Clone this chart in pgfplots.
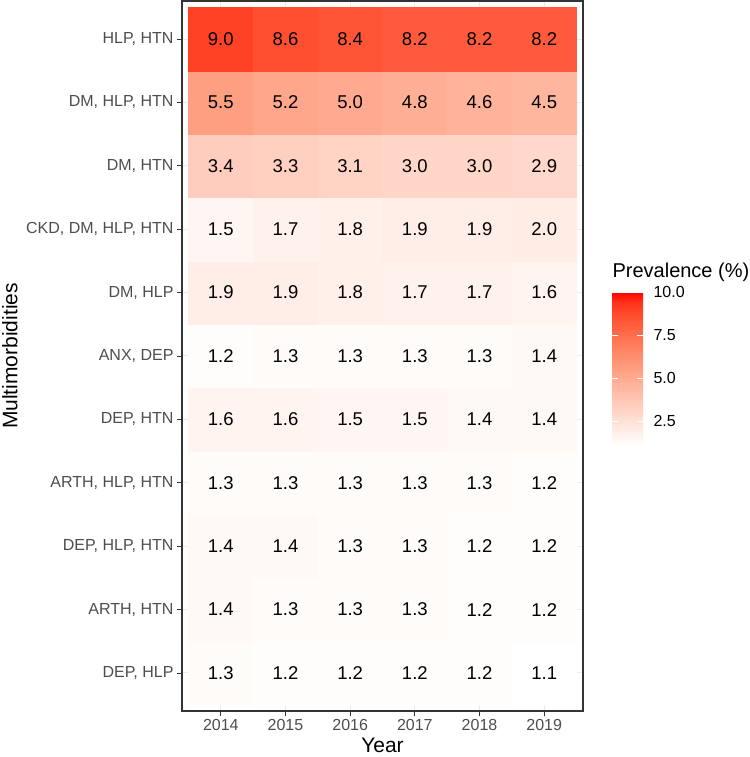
\documentclass[border=0pt]{standalone}
\usepackage{pgfplots}
\pgfplotsset{compat=1.18}
\usepackage{pgfplotstable}
\usepackage{fontspec}
\setmainfont{Liberation Sans}
\definecolor{gridgray}{HTML}{EBEBEB}
\definecolor{txtgray}{HTML}{4D4D4D}
\definecolor{framegray}{HTML}{333333}

% rows bottom (DEP, HLP) to top (HLP, HTN); x = 2014..2019 as 1..6
\pgfplotstableread{
x y v
1 1 1.3
2 1 1.2
3 1 1.2
4 1 1.2
5 1 1.2
6 1 1.1
1 2 1.4
2 2 1.3
3 2 1.3
4 2 1.3
5 2 1.2
6 2 1.2
1 3 1.4
2 3 1.4
3 3 1.3
4 3 1.3
5 3 1.2
6 3 1.2
1 4 1.3
2 4 1.3
3 4 1.3
4 4 1.3
5 4 1.3
6 4 1.2
1 5 1.6
2 5 1.6
3 5 1.5
4 5 1.5
5 5 1.4
6 5 1.4
1 6 1.2
2 6 1.3
3 6 1.3
4 6 1.3
5 6 1.3
6 6 1.4
1 7 1.9
2 7 1.9
3 7 1.8
4 7 1.7
5 7 1.7
6 7 1.6
1 8 1.5
2 8 1.7
3 8 1.8
4 8 1.9
5 8 1.9
6 8 2.0
1 9 3.4
2 9 3.3
3 9 3.1
4 9 3.0
5 9 3.0
6 9 2.9
1 10 5.5
2 10 5.2
3 10 5.0
4 10 4.8
5 10 4.6
6 10 4.5
1 11 9.0
2 11 8.6
3 11 8.4
4 11 8.2
5 11 8.2
6 11 8.2
}\prevtable

\begin{document}
\begin{tikzpicture}
\begin{axis}[
  name=main,
  scale only axis,
  width=401pt, height=710pt,
  xmin=0.4, xmax=6.6, ymin=0.4, ymax=11.6,
  xtick={1,...,6},
  xticklabels={2014,2015,2016,2017,2018,2019},
  ytick={1,...,11},
  yticklabels={{DEP, HLP},{ARTH, HTN},{DEP, HLP, HTN},{ARTH, HLP, HTN},{DEP, HTN},{ANX, DEP},{DM, HLP},{CKD, DM, HLP, HTN},{DM, HTN},{DM, HLP, HTN},{HLP, HTN}},
  tick pos=left,
  tick align=outside,
  major tick length=5pt,
  tick style={framegray, line width=0.8pt},
  axis line style={framegray, line width=1.1pt},
  grid=major,
  grid style={gridgray, line width=1pt},
  ticklabel style={font=\fontsize{16}{16}\selectfont, text=txtgray},
  xlabel={Year},
  ylabel={Multimorbidities},
  label style={font=\fontsize{21}{21}\selectfont, text=black, inner sep=1pt},
  xlabel shift=3pt,
  ylabel shift=4pt,
  colormap={prev}{rgb255(0cm)=(255,255,255); rgb255(1cm)=(255,231,222); rgb255(2cm)=(255,207,191); rgb255(3cm)=(255,183,160); rgb255(4cm)=(255,158,129); rgb255(5cm)=(255,132,99); rgb255(6cm)=(255,103,70); rgb255(7cm)=(255,70,40); rgb255(7.5cm)=(255,47,23); rgb255(8cm)=(255,0,0)},
  point meta min=1.1, point meta max=10,
  colorbar,
  colorbar/width=31pt,
  colorbar style={
    at={(parent axis.north east)}, anchor=north west,
    xshift=20.5pt, yshift=-291pt,
    scale only axis,
    width=31pt, height=153pt,
    ytick={2.5,5,7.5,10},
    yticklabel={\pgfmathprintnumber[fixed,fixed zerofill,precision=1]{\tick}},
    /pgf/number format/assume math mode=true,
    yticklabel style={font=\fontsize{16}{16}\selectfont, text=black, xshift=7pt},
    yticklabel pos=right,
    ytick pos=both,
    tick align=inside,
    major tick length=6pt,
    ytick style={white, line width=0.8pt},
    axis line style={draw=none},
    title={Prevalence (\%)},
    title style={at={(0,1)}, anchor=base west, xshift=-3pt, yshift=8pt, font=\fontsize{20}{20}\selectfont},
  },
]
\addplot[matrix plot*, mesh/cols=6, point meta=explicit] table[x=x, y=y, meta=v]{\prevtable};
\addplot[draw=none, mark=none, nodes near coords, nodes near coords align=center,
  point meta=explicit symbolic,
  every node near coord/.style={font=\fontsize{18.5}{18.5}\selectfont, text=black}]
  table[x=x, y=y, meta=v]{\prevtable};
\end{axis}
\pgfresetboundingbox
\path (main.north west) ++(-182pt,1pt) rectangle ++(749pt,-757pt);
\end{tikzpicture}
\end{document}
